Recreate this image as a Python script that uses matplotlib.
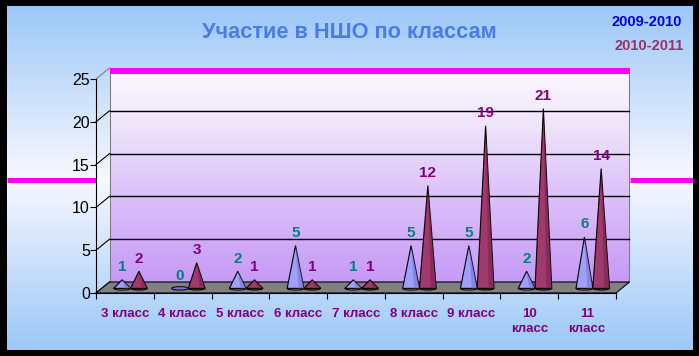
import numpy as np
import matplotlib
matplotlib.use("Agg")
import matplotlib.pyplot as plt
from matplotlib.patches import Polygon, Ellipse, Rectangle
from matplotlib.colors import LinearSegmentedColormap

plt.rcParams['font.family'] = ['Liberation Sans', 'DejaVu Sans']

# данные
classes = ["3 класс", "4 класс", "5 класс", "6 класс", "7 класс",
           "8 класс", "9 класс", "10\nкласс", "11\nкласс"]
y2009 = [1, 0, 2, 5, 1, 5, 5, 2, 6]
y2010 = [2, 3, 1, 1, 1, 12, 19, 21, 14]
series_names = ["2009-2010", "2010-2011"]
yticks = [0, 5, 10, 15, 20, 25]

W, H = 699, 356
fig = plt.figure(figsize=(W / 100, H / 100), dpi=100, facecolor="black")

# фон с градиентом
bg = fig.add_axes([7 / W, 6 / H, (693 - 7) / W, (350 - 6) / H])
bg.set_xlim(7, 693)
bg.set_ylim(350, 6)
bg.axis("off")
bg_cmap = LinearSegmentedColormap.from_list("bg", ["#9CC8F8", "#F8F8FF", "#9CC8F8"])
grad = np.linspace(0, 1, 256).reshape(-1, 1)
bg.imshow(grad, cmap=bg_cmap, extent=[7, 693, 350, 6], aspect="auto")
bg.plot([7, 96], [179.5, 179.5], color="#FF00FF", lw=3.6, solid_capstyle="butt")
bg.plot([630, 693], [179.5, 179.5], color="#FF00FF", lw=3.6, solid_capstyle="butt")

# оси диаграммы (передняя плоскость)
x0, x1, yb, yt = 96, 616, 293, 79
ax = fig.add_axes([x0 / W, (H - yb) / H, (x1 - x0) / W, (yb - yt) / H])
ax.patch.set_alpha(0)
n = len(classes)

px_x = (x1 - x0) / n
px_y = (yb - yt) / 25
DX = 13.5 / px_x
DY = 11 / px_y

# задняя стенка
wall = Polygon([(-0.5 + DX, DY), (n - 0.5 + DX, DY), (n - 0.5 + DX, 25 + DY), (-0.5 + DX, 25 + DY)],
               closed=True, facecolor="none", edgecolor="#808080", lw=0.8, zorder=2, clip_on=False)
ax.add_patch(wall)
wall_cmap = LinearSegmentedColormap.from_list(
    "wall", [(0, "#C69AF6"), (0.4, "#DCC0F9"), (0.75, "#F0E6FC"), (1, "#FCFAFF")])
im = ax.imshow(np.linspace(0, 1, 256).reshape(-1, 1), cmap=wall_cmap, origin="lower",
               extent=[-0.5 + DX, n - 0.5 + DX, DY, 25 + DY], aspect="auto", zorder=1)
im.set_clip_box(fig.bbox)
im.set_clip_path(wall)
ax.set_xlim(-0.5, n - 0.5)
ax.set_ylim(0, 25)
ax.add_patch(Rectangle((-0.5 + DX, 25 + DY - 0.68), n, 0.68, facecolor="#FF00FF",
                       edgecolor="none", zorder=3, clip_on=False))

for v in yticks:
    if 0 < v < 25:
        ax.plot([-0.5 + DX, n - 0.5 + DX], [v + DY, v + DY], color="black", lw=1,
                zorder=2, clip_on=False)
    ax.plot([-0.5, -0.5 + DX], [v, v + DY], color="black" if v < 25 else "#808080",
            lw=0.8, zorder=2, clip_on=False)

# пол
floor = Polygon([(-0.5, 0), (n - 0.5, 0), (n - 0.5 + DX, DY), (-0.5 + DX, DY)],
                closed=True, facecolor="#808080", edgecolor="black", lw=0.8, zorder=3, clip_on=False)
ax.add_patch(floor)

# конусы
f = 0.42
w = 0.145
base_y = f * DY
colors = [("#A0A0FA", "#7474D8", "#008080"), ("#A03A6C", "#7A2450", "#800080")]
for s, (vals, shift) in enumerate([(y2009, -0.145), (y2010, 0.145)]):
    light, dark, lab = colors[s]
    for i, v in enumerate(vals):
        xc = i + f * DX + shift
        ax.add_patch(Ellipse((xc, base_y), 2 * w, 0.4, facecolor=dark, edgecolor="black",
                             lw=0.7, zorder=4, clip_on=False))
        if v > 0:
            ax.add_patch(Polygon([(xc - w, base_y), (xc + w, base_y), (xc, base_y + v)],
                                 closed=True, facecolor=light, edgecolor="black", lw=0.8,
                                 zorder=5, clip_on=False))
            ax.add_patch(Polygon([(xc + w * 0.35, base_y), (xc + w, base_y), (xc, base_y + v)],
                                 closed=True, facecolor=dark, edgecolor="none", alpha=0.6,
                                 zorder=5, clip_on=False))
        ax.annotate(str(v), (xc, base_y + v), xytext=(0, 4), textcoords="offset points",
                    ha="center", va="bottom", color=lab, fontsize=11, fontweight="bold",
                    zorder=6, annotation_clip=False)

# оси
for sp in ["top", "right"]:
    ax.spines[sp].set_visible(False)
ax.spines["left"].set_zorder(7)
ax.spines["bottom"].set_zorder(7)
ax.set_yticks(yticks)
ax.tick_params(axis="y", length=4, width=0.8, pad=0.5, labelsize=11.5, colors="black")
ax.set_xticks(range(n))
ax.set_xticklabels(classes, color="#800080", fontsize=9.5, fontweight="bold", linespacing=1.25)
ax.set_xticks(np.arange(-0.5, n, 1), minor=True)
ax.tick_params(axis="x", which="major", length=0, pad=11)
ax.tick_params(axis="x", which="minor", length=4, width=0.8)

# заголовок и легенда
fig.text(349 / W, 1 - 33 / H, "Участие в НШО по классам", ha="center", va="center",
         color="#4A7CE8", fontsize=15.7, fontweight="bold")
fig.text(682 / W, 1 - 22 / H, series_names[0], ha="right", va="center",
         color="#0000E0", fontsize=10.5, fontweight="bold")
fig.text(684 / W, 1 - 46 / H, series_names[1], ha="right", va="center",
         color="#993366", fontsize=10.5, fontweight="bold")

fig.savefig("out.png", dpi=100, facecolor="black")
